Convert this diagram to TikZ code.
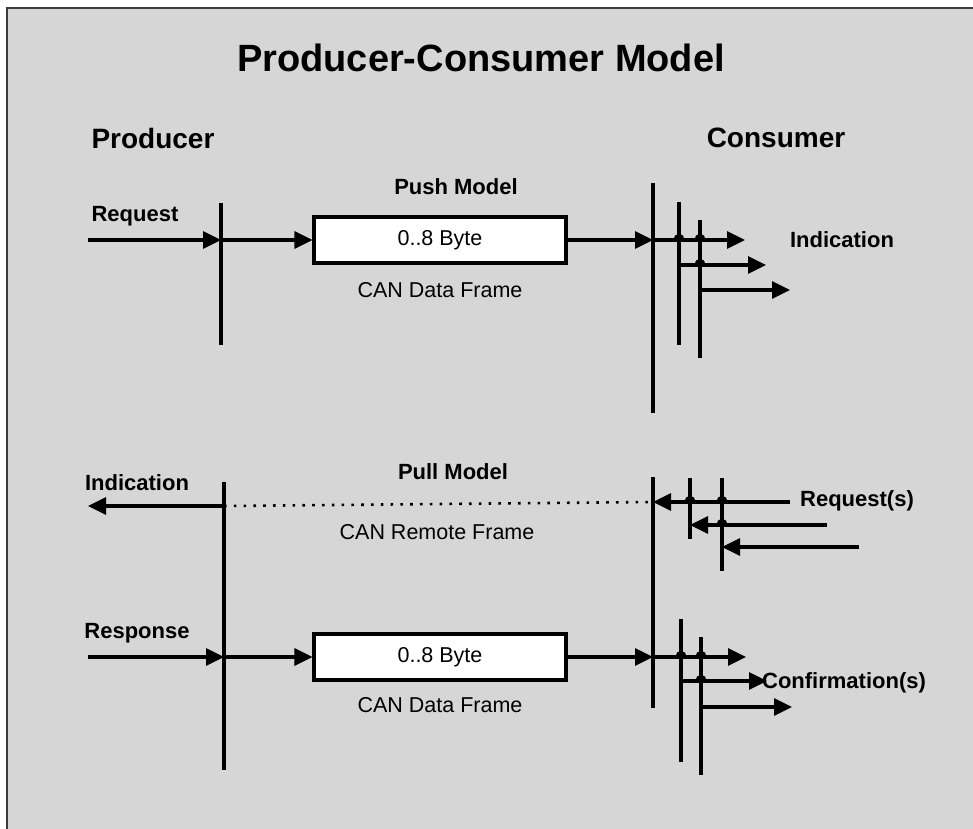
\documentclass[tikz,border=0pt]{standalone}
\usepackage{fontspec}
\setmainfont{Liberation Sans}
\usetikzlibrary{positioning,arrows.meta}
\definecolor{panel}{RGB}{214,214,214}
\definecolor{rim}{RGB}{60,60,60}

\begin{document}
\begin{tikzpicture}[
    x=1pt, y=-1pt, line width=3.1pt, >={Triangle[length=18pt,width=17pt]},
    every node/.style={font=\fontsize{22}{26}\selectfont\bfseries},
    frame/.style={draw, fill=white, minimum width=252pt, minimum height=46pt,
        inner sep=0pt, font=\fontsize{21.5}{25}\selectfont},
    note/.style={font=\fontsize{21.5}{25}\selectfont},
    side/.style={font=\fontsize{28}{32}\selectfont\bfseries},
    remote/.style={line width=2.6pt, dash pattern=on 2.6pt off 7.2pt}
]
\useasboundingbox (0,0) rectangle (973,828);
\fill[white] (0,0) rectangle (973,828);
\draw[rim, fill=panel, line width=2.2pt] (7,8) rectangle (990,850);

\node[font=\fontsize{38}{44}\selectfont\bfseries] (title) at (481,58) {Producer-Consumer Model};
\node[side] (prod) at (153,138) {Producer};
\node[side] (cons) at (776,138) {Consumer};

\node (push) at (456,187) {Push Model};
\node (req) at (135,216) {Request};
\node[frame] (data1) at (440,240) {0..8 Byte};
\node[note] (dfr1) at (440,290) {CAN Data Frame};
\node (ind) at (842,240) {Indication};

\coordinate (p1t) at (221,203);
\coordinate (p1b) at (221,345);
\coordinate (c1t) at (653,183);
\coordinate (c1b) at (653,413);
\coordinate (b2t) at (679,202);
\coordinate (b2b) at (679,345);
\coordinate (b3t) at (700,220);
\coordinate (b3b) at (700,358);
\coordinate (rqin) at (88,240);
\coordinate (ind1) at (745,240);
\coordinate (ind2) at (766,265);
\coordinate (ind3) at (790,290);

\draw (p1t) -- (p1b);
\draw (c1t) -- (c1b);
\draw (b2t) -- (b2b);
\draw (b3t) -- (b3b);
\draw[->] (rqin) -- (rqin -| p1t);
\draw[->] (rqin -| p1t) -- (data1.west);
\draw[->] (data1.east) -- (data1.east -| c1t);
\draw[->] (ind1 -| c1t) -- (ind1);
\draw[->] (ind2 -| b2t) -- (ind2);
\draw[->] (ind3 -| b3t) -- (ind3);

\node (pull) at (453,472) {Pull Model};
\node (indl) at (137,483) {Indication};
\node[note] (rfr) at (437,532) {CAN Remote Frame};
\node (reqs) at (857,501) {Request(s)};

\coordinate (p2t) at (224,482);
\coordinate (p2b) at (224,770);
\coordinate (c2t) at (653,477);
\coordinate (c2b) at (653,708);
\coordinate (q2t) at (690,478);
\coordinate (q2b) at (690,539);
\coordinate (q3t) at (722,478);
\coordinate (q3b) at (722,571);
\coordinate (indout) at (88,506);
\coordinate (rq1) at (790,502);
\coordinate (rq2) at (827,525);
\coordinate (rq3) at (859,547);

\draw (p2t) -- (p2b);
\draw (c2t) -- (c2b);
\draw (q2t) -- (q2b);
\draw (q3t) -- (q3b);
\draw[->] (indout -| p2t) -- (indout);
\draw[remote] (indout -| p2t) -- (rq1 -| c2t);
\draw[->] (rq1) -- (rq1 -| c2t);
\draw[->] (rq2) -- (rq2 -| q2t);
\draw[->] (rq3) -- (rq3 -| q3t);

\node (resp) at (137,633) {Response};
\node[frame] (data2) at (440,657) {0..8 Byte};
\node[note] (dfr2) at (440,705) {CAN Data Frame};

\coordinate (rsin) at (88,657);
\coordinate (r2t) at (681,619);
\coordinate (r2b) at (681,762);
\coordinate (r3t) at (701,637);
\coordinate (r3b) at (701,775);
\coordinate (cf1) at (746,657);
\coordinate (cf2) at (767,681);
\coordinate (cf3) at (792,707);

\draw (r2t) -- (r2b);
\draw (r3t) -- (r3b);
\draw[->] (rsin) -- (rsin -| p2t);
\draw[->] (rsin -| p2t) -- (data2.west);
\draw[->] (data2.east) -- (data2.east -| c2t);
\draw[->] (cf1 -| c2t) -- (cf1);
\draw[->] (cf2 -| r2t) -- (cf2);
\draw[->] (cf3 -| r3t) -- (cf3);
\node (conf) at (844,683) {Confirmation(s)};

\foreach \hx/\hy in {679/240, 700/240, 700/265, 690/502, 722/502, 722/525,
                     681/657, 701/657, 701/681}
  \draw (\hx-4,\hy) .. controls (\hx-4,\hy-6) and (\hx+4,\hy-6) .. (\hx+4,\hy);
\end{tikzpicture}
\end{document}
